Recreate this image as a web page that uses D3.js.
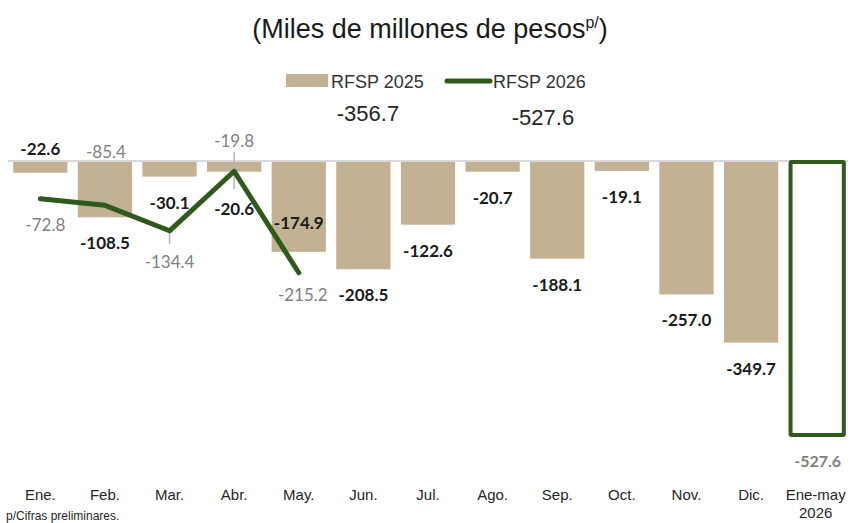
<!DOCTYPE html>
<html>
<head>
<meta charset="utf-8">
<script src="https://cdn.jsdelivr.net/npm/d3@7"></script>
<style>
	body { margin: 0; background: #fff; }
	svg { display: block; }
</style>
</head>
<body>
<div id="chart"></div>
<script>
// data
var categories = ["Ene.", "Feb.", "Mar.", "Abr.", "May.", "Jun.", "Jul.", "Ago.", "Sep.", "Oct.", "Nov.", "Dic.", "Ene-may 2026"];
var rfsp2025 = [-22.6, -108.5, -30.1, -20.6, -174.9, -208.5, -122.6, -20.7, -188.1, -19.1, -257.0, -349.7];
var rfsp2026 = [-72.8, -85.4, -134.4, -19.8, -215.2];
var total2026 = -527.6;
var legendNames = ["RFSP 2025", "RFSP 2026"];
var legendTotals = [-356.7, -527.6];

var tan = "#c2b293",
	green = "#2f5a1c",
	narrow = "'Liberation Sans', Arial, sans-serif",
	numFont = "Lato, 'Open Sans', sans-serif";

var width = 860, height = 523;

var svg = d3.select("#chart")
	.append("svg")
	.attr("width", width)
	.attr("height", height);

// scales
var x = d3.scaleBand()
	.domain(categories)
	.range([8, 848])
	.paddingInner(0.16)
	.paddingOuter(0.08);

var y = d3.scaleLinear()
	.domain([0, -560])
	.range([161, 161 + 560 * 0.5193]);

// plain hyphen as minus, like the source
var fmt = d3.formatLocale({decimal: ".", thousands: ",", grouping: [3], currency: ["", ""], minus: "-"}).format(".1f");

// subtitle
var sub = svg.append("text")
	.attr("x", 430)
	.attr("y", 38)
	.attr("text-anchor", "middle")
	.style("font-family", narrow)
	.style("font-size", "27px")
	.style("fill", "#1a1a1a");
sub.append("tspan").text("(Miles de millones de pesos");
sub.append("tspan").attr("dy", -10).style("font-size", "16px").text("p/");
sub.append("tspan").attr("dy", 10).text(")");

// legend
svg.append("rect")
	.attr("x", 286).attr("y", 74)
	.attr("width", 42).attr("height", 13)
	.attr("fill", tan);
svg.append("line")
	.attr("x1", 447).attr("x2", 490)
	.attr("y1", 81).attr("y2", 81)
	.attr("stroke", green)
	.attr("stroke-width", 5)
	.attr("stroke-linecap", "round");
svg.selectAll(".legtext")
	.data(legendNames)
	.enter()
	.append("text")
	.attr("x", function(d, i) { return i == 0 ? 331 : 493; })
	.attr("y", 88)
	.style("font-family", narrow)
	.style("font-size", "18px")
	.style("fill", "#333")
	.text(function(d) { return d; });

svg.selectAll(".legtotal")
	.data(legendTotals)
	.enter()
	.append("text")
	.attr("x", function(d, i) { return i == 0 ? 368 : 543; })
	.attr("y", function(d, i) { return i == 0 ? 121 : 125; })
	.attr("text-anchor", "middle")
	.style("font-family", narrow)
	.style("font-size", "22px")
	.style("fill", "#262626")
	.text(function(d) { return fmt(d); });

// zero line
svg.append("line")
	.attr("x1", 8).attr("x2", 848)
	.attr("y1", y(0)).attr("y2", y(0))
	.attr("stroke", "#d9d9d9")
	.attr("stroke-width", 2);

// 2025 bars
svg.selectAll(".bar")
	.data(rfsp2025)
	.enter()
	.append("rect")
	.attr("class", "bar")
	.attr("x", function(d, i) { return x(categories[i]); })
	.attr("y", y(0) + 1)
	.attr("width", x.bandwidth())
	.attr("height", function(d) { return y(d) - y(0) - 1; })
	.attr("fill", tan);

// Ene-may 2026 bar, outline only
var lastCat = categories[categories.length - 1];
svg.append("rect")
	.attr("x", x(lastCat) + 2)
	.attr("y", y(0) + 1)
	.attr("width", x.bandwidth() - 1)
	.attr("height", y(total2026) - y(0) - 1)
	.attr("fill", "#fff")
	.attr("stroke", green)
	.attr("stroke-width", 4)
	.attr("rx", 1);

// 2026 line
var cx = function(d, i) { return x(categories[i]) + x.bandwidth() / 2; };

// leader lines for a few labels
var leaders = {1: [163, 205], 2: [231, 244], 3: [152, 189]};
Object.keys(leaders).forEach(function(k) {
	svg.append("line")
		.attr("x1", cx(null, +k)).attr("x2", cx(null, +k))
		.attr("y1", leaders[k][0]).attr("y2", leaders[k][1])
		.attr("stroke", "#b3b3b3")
		.attr("stroke-width", 1.5);
});

var line = d3.line()
	.x(cx)
	.y(function(d) { return y(d); });

svg.append("path")
	.datum(rfsp2026)
	.attr("d", line)
	.attr("fill", "none")
	.attr("stroke", green)
	.attr("stroke-width", 5)
	.attr("stroke-linecap", "round")
	.attr("stroke-linejoin", "round");

// bar labels
svg.selectAll(".barlab")
	.data(rfsp2025)
	.enter()
	.append("text")
	.attr("x", function(d, i) { return cx(d, i); })
	.attr("y", function(d, i) {
		if (i == 0) return y(0) - 6;
		if (i == 3) return y(d) + 43;
		if (i == 4) return y(d) - 23;
		return y(d) + 32;
	})
	.attr("text-anchor", "middle")
	.style("font-family", numFont)
	.style("font-weight", "bold")
	.style("font-size", "17px")
	.style("fill", "#1a1a1a")
	.text(function(d) { return fmt(d); });

// line labels
var lineOff = [[5, 32], [1, -47], [0, 37], [0, -24], [4, 28]];
svg.selectAll(".linelab")
	.data(rfsp2026)
	.enter()
	.append("text")
	.attr("x", function(d, i) { return cx(d, i) + lineOff[i][0]; })
	.attr("y", function(d, i) { return y(d) + lineOff[i][1]; })
	.attr("text-anchor", "middle")
	.style("font-family", numFont)
	.style("font-size", "17px")
	.style("fill", "#7f7f7f")
	.text(function(d) { return fmt(d); });

svg.append("text")
	.attr("x", x(lastCat) + x.bandwidth() / 2 + 2)
	.attr("y", y(total2026) + 32)
	.attr("text-anchor", "middle")
	.style("font-family", numFont)
	.style("font-weight", "bold")
	.style("font-size", "16px")
	.style("fill", "#808080")
	.text(fmt(total2026));

// category axis labels
svg.selectAll(".cat")
	.data(categories)
	.enter()
	.append("text")
	.attr("x", function(d) { return x(d) + x.bandwidth() / 2; })
	.attr("y", 500)
	.attr("text-anchor", "middle")
	.style("font-family", narrow)
	.style("font-size", "15px")
	.style("fill", "#262626")
	.each(function(d) {
		var parts = d.split(" ");
		var t = d3.select(this);
		parts.forEach(function(p, j) {
			t.append("tspan")
				.attr("x", x(d) + x.bandwidth() / 2)
				.attr("dy", j == 0 ? 0 : 18)
				.text(p);
		});
	});

// footnote at the bottom edge
svg.append("text")
	.attr("x", 6)
	.attr("y", 520)
	.style("font-family", narrow)
	.style("font-size", "12px")
	.style("fill", "#262626")
	.text("p/Cifras preliminares.");
</script>
</body>
</html>
